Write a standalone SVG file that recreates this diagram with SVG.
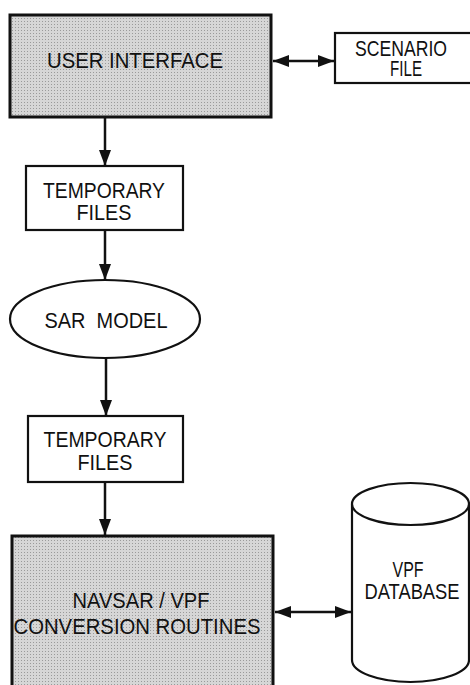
<svg xmlns="http://www.w3.org/2000/svg" width="470" height="685" viewBox="0 0 470 685">
<style>
text{font-family:"Liberation Sans",Arial,sans-serif;font-size:22px;fill:#111;text-anchor:middle}
.shade{stroke:#111;stroke-width:3}
.plain{fill:#fff;stroke:#111;stroke-width:2.2}
.conn{stroke:#111;stroke-width:2.5;fill:none}
</style>
<defs>
<pattern id="dots" width="3" height="3" patternUnits="userSpaceOnUse">
<rect width="3" height="3" fill="#d6d6d6"/>
<rect width="1" height="1" fill="#9a9a9a"/>
</pattern>
<marker id="ah" viewBox="0 0 16 12" refX="16" refY="6" markerWidth="16" markerHeight="12" markerUnits="userSpaceOnUse" orient="auto-start-reverse">
<path d="M0,0 L16,6 L0,12 Z" fill="#111"/>
</marker>
</defs>
<g id="user-interface">
<rect class="shade" x="10" y="15" width="261" height="102" fill="url(#dots)"/>
<text x="135" y="68" textLength="176" lengthAdjust="spacingAndGlyphs">USER INTERFACE</text>
</g>
<g id="scenario-file">
<rect class="plain" x="335" y="33" width="140" height="50"/>
<text><tspan x="401" y="56" textLength="92" lengthAdjust="spacingAndGlyphs">SCENARIO</tspan><tspan x="406" y="76" textLength="32" lengthAdjust="spacingAndGlyphs">FILE</tspan></text>
</g>
<g id="temp-files-1">
<rect class="plain" x="26" y="166" width="157" height="64"/>
<text><tspan x="104" y="198" textLength="122" lengthAdjust="spacingAndGlyphs">TEMPORARY</tspan><tspan x="104" y="220" textLength="55" lengthAdjust="spacingAndGlyphs">FILES</tspan></text>
</g>
<g id="sar-model">
<ellipse class="plain" cx="105" cy="319" rx="95" ry="39"/>
<text x="106" y="328" textLength="123" lengthAdjust="spacingAndGlyphs" xml:space="preserve">SAR  MODEL</text>
</g>
<g id="temp-files-2">
<rect class="plain" x="28" y="416" width="155" height="66"/>
<text><tspan x="105" y="447" textLength="123" lengthAdjust="spacingAndGlyphs">TEMPORARY</tspan><tspan x="105" y="470" textLength="55" lengthAdjust="spacingAndGlyphs">FILES</tspan></text>
</g>
<g id="navsar-vpf">
<rect class="shade" x="12" y="536" width="261" height="160" fill="url(#dots)"/>
<text><tspan x="141" y="608" textLength="137" lengthAdjust="spacingAndGlyphs">NAVSAR / VPF</tspan><tspan x="137" y="634" textLength="247" lengthAdjust="spacingAndGlyphs">CONVERSION ROUTINES</tspan></text>
</g>
<g id="vpf-database">
<path class="plain" d="M352,504 L352,660 A58.5,22 0 0 0 469,660 L469,504"/>
<ellipse class="plain" cx="410.5" cy="504" rx="58.5" ry="21"/>
<text><tspan x="408" y="577" textLength="31" lengthAdjust="spacingAndGlyphs">VPF</tspan><tspan x="412" y="599" textLength="95" lengthAdjust="spacingAndGlyphs">DATABASE</tspan></text>
</g>
<g id="connectors">
<line class="conn" x1="273" y1="61" x2="334" y2="61" marker-start="url(#ah)" marker-end="url(#ah)"/>
<line class="conn" x1="105" y1="118" x2="105" y2="166" marker-end="url(#ah)"/>
<line class="conn" x1="105" y1="231" x2="105" y2="280" marker-end="url(#ah)"/>
<line class="conn" x1="106" y1="358" x2="106" y2="416" marker-end="url(#ah)"/>
<line class="conn" x1="105" y1="483" x2="105" y2="535" marker-end="url(#ah)"/>
<line class="conn" x1="275" y1="612" x2="351" y2="612" marker-start="url(#ah)" marker-end="url(#ah)"/>
</g>
</svg>
